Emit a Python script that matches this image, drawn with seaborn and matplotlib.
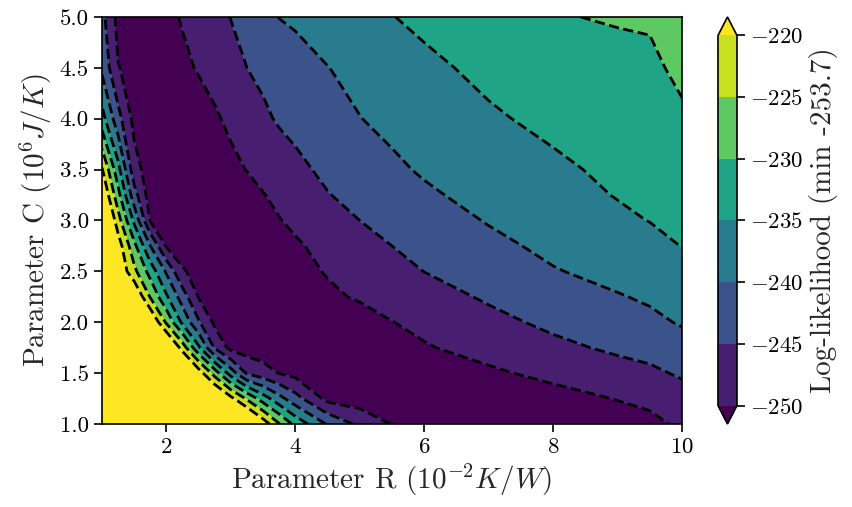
import numpy as np
import matplotlib
matplotlib.use("Agg")
import matplotlib.pyplot as plt
import seaborn as sns

# grid of parameter values (R in 1e-2 K/W, C in 1e6 J/K)
r_values = [1.0, 1.25, 1.5, 1.75, 2.0, 2.25, 2.5, 2.75, 3.0, 3.25, 3.5, 3.75,
            4.0, 4.5, 5.0, 5.5, 6.0, 7.0, 8.0, 9.0, 9.5, 10.0]
c_values = [1.0, 1.25, 1.5, 1.75, 2.0, 2.25, 2.5, 2.75, 3.0, 3.25, 3.5, 4.0, 4.5, 5.0]

# log-likelihood, one row per C value
loglik = [
    [-137, -145, -153, -161, -169, -177, -185, -193, -201, -209, -216.9, -224.7,
     -231.5, -240.5, -246.2, -250.2, -251.5, -252.8, -253.0, -252.3, -251.0, -249.3],
    [-155, -163, -171, -179, -187, -195, -203, -211, -218.5, -225.8, -232.5, -238.3,
     -243.1, -251.5, -252.5, -253.1, -253.3, -253.0, -251.8, -249.8, -249.1, -246.9],
    [-157, -167, -177, -187, -197, -207, -217.2, -227.3, -237.3, -245.6, -247.9, -250.2,
     -251.5, -252.8, -253.3, -253.4, -253.1, -250.8, -248.7, -246.8, -245.9, -244.4],
    [-170, -180, -190, -200, -210.6, -222.3, -234.1, -245.6, -251.5, -252.3, -252.8, -253.1,
     -253.3, -253.4, -253.0, -252.2, -250.4, -248.2, -246.1, -244.2, -243.4, -241.8],
    [-185, -192, -203, -214, -225.8, -236.1, -244.4, -251.0, -252.2, -252.8, -253.2, -253.4,
     -253.6, -253.3, -252.3, -250.1, -248.8, -246.3, -244.0, -241.9, -241.0, -239.6],
    [-192, -203, -214.2, -225.4, -234.3, -242.5, -250.3, -252.0, -252.9, -253.3, -253.5, -253.6,
     -253.2, -251.0, -249.4, -248.2, -246.9, -244.4, -242.2, -240.3, -239.4, -238.0],
    [-207, -215.4, -223.7, -232.0, -240.7, -249.5, -251.5, -252.8, -253.4, -253.6, -253.7, -253.3,
     -251.8, -249.6, -248.0, -246.5, -244.95, -242.6, -240.3, -238.6, -237.8, -236.4],
    [-206, -217.3, -228.6, -240.0, -250.5, -252.3, -253.0, -253.4, -253.5, -253.4, -253.0, -251.8,
     -250.6, -248.6, -246.8, -245.0, -243.7, -241.2, -238.9, -237.0, -236.4, -234.9],
    [-209, -222.8, -236.1, -250.3, -251.8, -252.8, -253.3, -253.5, -253.3, -252.8, -251.5, -250.2,
     -249.1, -247.0, -245.0, -243.7, -242.3, -239.7, -237.8, -235.8, -234.9, -234.1],
    [-214.5, -228.3, -243.0, -252.5, -253.0, -253.4, -253.3, -253.0, -252.6, -251.8, -250.2, -248.9,
     -247.6, -245.2, -243.6, -242.2, -240.7, -238.5, -236.6, -234.8, -234.2, -233.2],
    [-219.5, -233.3, -248.0, -252.5, -253.0, -253.3, -253.0, -252.3, -251.3, -249.85, -248.6, -247.3,
     -246.1, -244.0, -242.4, -240.8, -239.5, -237.6, -235.7, -234.2, -233.6, -232.4],
    [-233, -243.2, -251.5, -252.8, -253.2, -253.0, -252.3, -250.7, -248.9, -247.3, -245.8, -244.5,
     -243.7, -241.9, -240.1, -238.9, -237.8, -235.5, -234.1, -232.9, -232.3, -230.7],
    [-241, -249.8, -251.5, -252.5, -252.5, -251.0, -249.6, -248.1, -246.5, -245.0, -244.0, -243.0,
     -242.1, -240.1, -238.7, -237.3, -235.8, -234.1, -232.8, -231.5, -230.9, -229.0],
    [-243.5, -251.5, -252.3, -252.5, -251.2, -249.6, -248.0, -246.5, -244.9, -243.2, -241.5, -239.9,
     -239.2, -237.8, -236.4, -235.1, -234.2, -232.5, -230.3, -229.6, -229.5, -227.8],
]

levels = [-250, -245, -240, -235, -230, -225, -220]
x_ticks = [2, 4, 6, 8, 10]
y_ticks = [1.0, 1.5, 2.0, 2.5, 3.0, 3.5, 4.0, 4.5, 5.0]

sns.set_theme(style="ticks")
plt.rcParams.update({
    "font.family": "serif",
    "font.serif": ["cmr10"],
    "mathtext.fontset": "cm",
    "axes.formatter.use_mathtext": True,
    "axes.edgecolor": "black",
    "axes.linewidth": 1.2,
    "xtick.color": "black",
    "ytick.color": "black",
    "xtick.major.size": 6,
    "ytick.major.size": 6,
    "xtick.major.width": 1.2,
    "ytick.major.width": 1.2,
    "xtick.direction": "out",
    "ytick.direction": "out",
})

fig = plt.figure(figsize=(8.52, 5.07), dpi=100)
ax = fig.add_axes([0.1197, 0.1637, 0.6808, 0.8028])
cax = fig.add_axes([0.8427, 0.1637, 0.0223, 0.8028])

z = np.array(loglik)
cmap = sns.color_palette("viridis", as_cmap=True)
cf = ax.contourf(r_values, c_values, z, levels=levels, cmap=cmap, extend="both")
ax.contour(r_values, c_values, z, levels=levels, colors="black",
           linestyles="--", linewidths=2.0)

ax.set_xticks(x_ticks)
ax.set_yticks(y_ticks)
ax.set_yticklabels([f"{v:.1f}" for v in y_ticks])
ax.tick_params(labelsize=16.5)
ax.set_xlabel(r"Parameter R ($10^{-2}K/W$)", fontsize=21)
ax.set_ylabel(r"Parameter C ($10^6J/K$)", fontsize=21)

cb = fig.colorbar(cf, cax=cax)
cb.set_ticks(levels)
cb.ax.tick_params(labelsize=16.5)
cb.outline.set_linewidth(1.2)
cb.set_label("Log-likelihood (min -253.7)", fontsize=21)

fig.savefig("out.png", dpi=100)
